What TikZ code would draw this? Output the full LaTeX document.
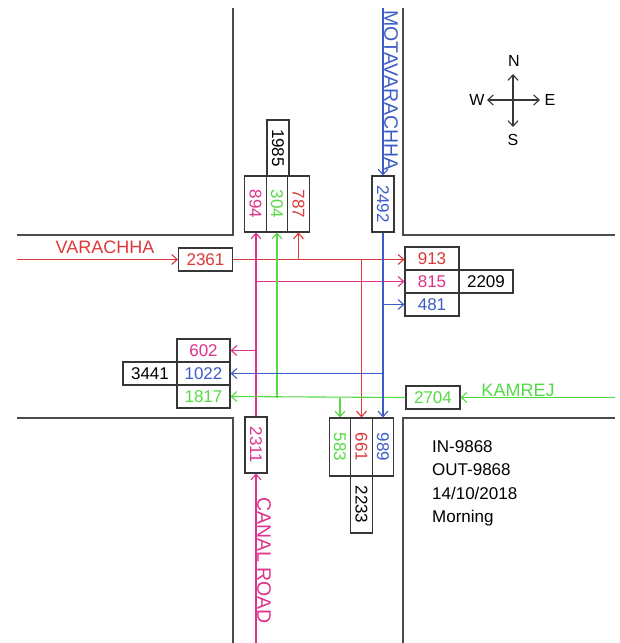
\documentclass[tikz,border=0pt]{standalone}
\usepackage{fontspec}
\setmainfont{Liberation Sans}
\usetikzlibrary{arrows.meta}
\definecolor{cred}{RGB}{222,56,56}
\definecolor{cmag}{RGB}{222,50,140}
\definecolor{cgrn}{RGB}{85,218,70}
\definecolor{cblu}{RGB}{60,92,200}
\definecolor{boxgray}{RGB}{55,55,55}
\definecolor{roadgray}{RGB}{75,75,75}
\begin{document}
\begin{tikzpicture}[x=1pt,y=-1pt,
  road/.style={draw=roadgray,line width=1.1pt},
  box/.style={draw=boxgray,line width=1.1pt,fill=white,inner sep=0pt,font=\fontsize{17}{20}\selectfont},
  hbox/.style={box,minimum width=54pt,minimum height=23pt},
  vbox/.style={box,minimum width=21.5pt,minimum height=56pt},
  flow/.style={line width=1.1pt,-{Straight Barb[length=5.5pt,width=10pt]}},
  lbl/.style={inner sep=0pt,font=\fontsize{18}{20}\selectfont},
  vlbl/.style={inner sep=0pt,font=\fontsize{19.5}{20}\selectfont},
  comp/.style={inner sep=0pt,font=\fontsize{16}{18}\selectfont}]
\useasboundingbox (0,0) rectangle (619,643);

% roads
\draw[road] (233,8) -- (233,235) -- (17,235);
\draw[road] (403,8) -- (403,235) -- (615,235);
\draw[road] (17,418) -- (233,418) -- (233,643);
\draw[road] (615,418) -- (403,418) -- (403,643);

% boxes
\node[vbox,minimum width=22pt] (b1985) at (278,148) {\rotatebox{-90}{1985}};
\node[vbox,text=cmag] (c894) at (255.5,204) {\rotatebox{-90}{894}};
\node[vbox,text=cgrn] (c304) at (277,204) {\rotatebox{-90}{304}};
\node[vbox,text=cred] (c787) at (298.5,204) {\rotatebox{-90}{787}};
\node[vbox,minimum width=22pt,text=cblu] (b2492) at (383,204) {\rotatebox{-90}{2492}};

\node[hbox,text=cred] (b2361) at (205.5,259.5) {2361};

\node[hbox,text=cred] (r913) at (432,258.5) {913};
\node[hbox,text=cmag] (r815) at (432,281.5) {815};
\node[hbox,text=cblu] (r481) at (432,304.5) {481};
\node[hbox] (b2209) at (486,281.5) {2209};

\node[hbox,minimum width=53pt,text=cmag] (l602) at (203.5,350.5) {602};
\node[hbox,minimum width=53pt,text=cblu] (l1022) at (203.5,373.5) {1022};
\node[hbox,minimum width=53pt,text=cgrn] (l1817) at (203.5,396.5) {1817};
\node[hbox] (b3441) at (150,373.5) {3441};

\node[hbox,text=cgrn] (b2704) at (433,397.5) {2704};

\node[vbox,minimum width=22pt,text=cmag] (b2311) at (256,445) {\rotatebox{-90}{2311}};

\node[vbox,minimum height=58pt,text=cgrn] (c583) at (340,447) {\rotatebox{-90}{583}};
\node[vbox,minimum height=58pt,text=cred] (c661) at (361.5,447) {\rotatebox{-90}{661}};
\node[vbox,minimum height=58pt,text=cblu] (c989) at (383,447) {\rotatebox{-90}{989}};
\node[vbox,minimum height=57pt] (b2233) at (361.5,504.5) {\rotatebox{-90}{2233}};

% free ends
\coordinate (redW) at (17,259.5);
\coordinate (grnE) at (615,397.5);
\coordinate (bluN) at (383,8);
\coordinate (magS) at (256,643);

% red flows
\draw[flow,cred] (redW) -- (b2361.west);
\draw[flow,cred] (b2361.east) -- (b2361.east -| r913.west);
\draw[flow,cred] (b2361.east -| c787) -- (c787.south);
\draw[flow,cred] (b2361.east -| c661) -- (c661.north);

% magenta flows
\draw[flow,cmag] (magS) -- (b2311.south);
\draw[flow,cmag] (b2311.north) -- (b2311.north |- c894.south);
\draw[flow,cmag] (b2311 |- r815) -- (r815.west);
\draw[flow,cmag] (b2311 |- l602) -- (l602.east);

% green flows
\draw[flow,cgrn] (grnE) -- (b2704.east);
\draw[flow,cgrn] (b2704.west) -- (l1817.east);
\draw[flow,cgrn] (b2704.west -| c304) -- (c304.south);
\draw[flow,cgrn] (b2704.west -| c583) -- (c583.north);

% blue flows
\draw[flow,cblu] (bluN) -- (b2492.north);
\draw[flow,cblu] (b2492.south) -- (c989.north);
\draw[flow,cblu] (b2492 |- r481) -- (r481.west);
\draw[flow,cblu] (b2492 |- l1022) -- (l1022.east);

% road names
\node[lbl,text=cred,anchor=base] (varachha) at (105,253) {VARACHHA};
\node[lbl,text=cgrn,anchor=base] (kamrej) at (518,396) {KAMREJ};
\node[vlbl,text=cblu,anchor=north west] (mota) at (384,10) {\rotatebox{-90}{MOTAVARACHHA}};
\node[vlbl,text=cmag,anchor=north west] (canal) at (257,497) {\rotatebox{-90}{CANAL ROAD}};

% compass
\coordinate (cc) at (513,100);
\coordinate (cu) at (513,74);
\coordinate (cd) at (513,127);
\coordinate (cl) at (487,100);
\coordinate (cr) at (540,100);
\draw[flow,boxgray] (cc) -- (cu);
\draw[flow,boxgray] (cc) -- (cd);
\draw[flow,boxgray] (cc) -- (cl);
\draw[flow,boxgray] (cc) -- (cr);
\node[comp] (nN) at (514,61) {N};
\node[comp] (nS) at (513,140) {S};
\node[comp] (nW) at (477,100) {W};
\node[comp] (nE) at (550,100) {E};

% info
\node[anchor=north west,align=left,inner sep=0pt,font=\fontsize{17}{23.5}\selectfont] (info) at (432,440) {IN-9868\\OUT-9868\\14/10/2018\\Morning};
\end{tikzpicture}
\end{document}
